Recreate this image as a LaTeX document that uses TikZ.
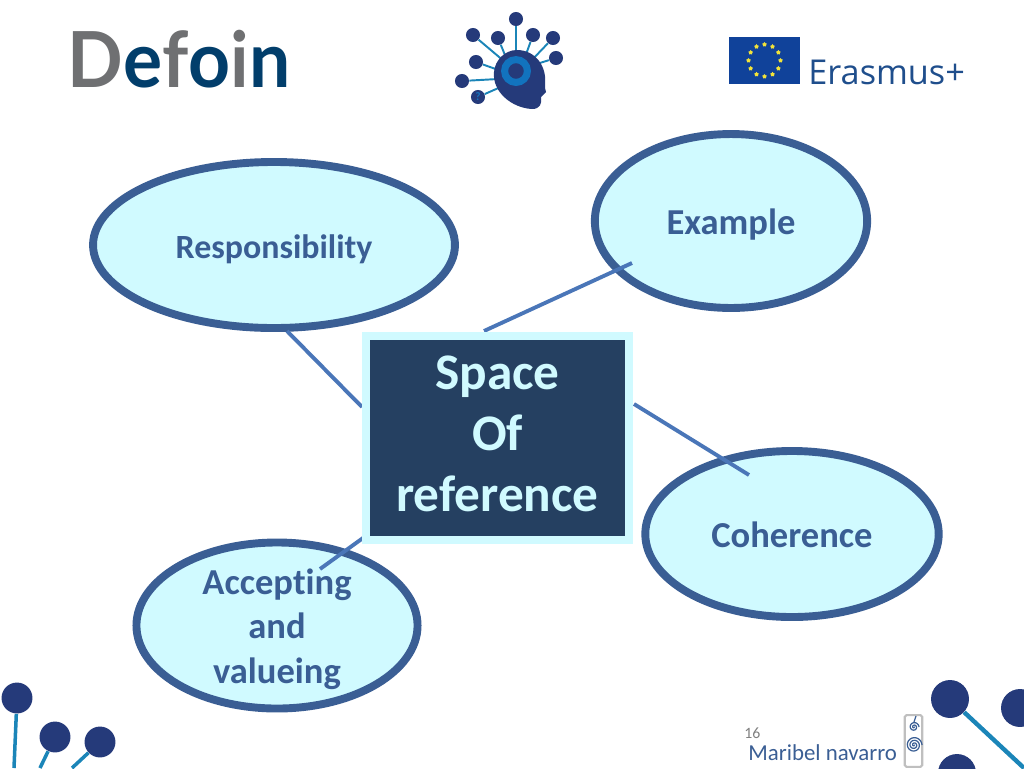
\documentclass[tikz,border=0pt]{standalone}
\usepackage{xcolor}
\usepackage{fontspec}
\setmainfont{Carlito}[Ligatures=NoCommon]
\newfontfamily\logofont{Open Sans}
\newfontfamily\brandfont{Lato}[FakeStretch=0.947]
\usetikzlibrary{shapes.geometric, positioning, calc}
\definecolor{rimblue}{HTML}{3A5E94}
\definecolor{paleaqua}{HTML}{D0FAFF}
\definecolor{boxnavy}{HTML}{254061}
\definecolor{linkblue}{HTML}{4A76B8}
\definecolor{dotnavy}{HTML}{253A7A}
\definecolor{stemblue}{HTML}{1B85B8}
\definecolor{ringblue}{HTML}{1273BE}
\definecolor{logogrey}{HTML}{6F7072}
\definecolor{logoblue}{HTML}{023E6B}
\definecolor{flagblue}{HTML}{10429A}
\definecolor{erasblue}{HTML}{1F4E8C}
\definecolor{stargold}{HTML}{F2E33A}
\tikzset{
  bubble/.style={ellipse, draw=rimblue, fill=paleaqua, line width=4.5pt, inner sep=0pt},
  bubbletext/.style={inner sep=0pt, text=rimblue, align=center, font=\fontsize{20.8}{25.3}\selectfont\bfseries},
  hubbox/.style={rectangle, draw=paleaqua, fill=boxnavy, line width=4.6pt, inner sep=0pt, minimum width=149.6pt, minimum height=116pt},
  hubtext/.style={inner sep=0pt, text=paleaqua, align=center, font=\fontsize{29.2}{34.7}\selectfont\bfseries},
  link/.style={linkblue, line width=2.2pt},
  dot/.style={circle, fill=dotnavy, inner sep=0pt, minimum size=#1},
  stem/.style={stemblue, line width=#1},
  stem/.default=1.1pt
}
\begin{document}
\begin{tikzpicture}[x=0.02cm, y=-0.02cm]
  \useasboundingbox (0,0) rectangle (1024,768);

  % Header logos
  \node[inner sep=0pt, anchor=base west, font=\brandfont\fontsize{44}{44}\selectfont\bfseries] (defoin) at (67,87)
    {\textcolor{logogrey}{D}\textcolor{logoblue}{e}\textcolor{logogrey}{f}\textcolor{logoblue}{o}\textcolor{logogrey}{i}\textcolor{logoblue}{n}};

  % Head logo
  \foreach \name/\x/\y/\hx/\hy in {a/516/19/516/60, b/473/35/505/62, c/498/38/507/60, d/533/35/524/60, e/553/38/530/62, f/476/62/504/72, g/556/58/530/66, h/462/81/498/79} {
    \coordinate (root\name) at (\hx,\hy);
    \node[dot=8pt] (head\name) at (\x,\y) {};
    \draw[stem] (head\name) -- (root\name);
  }
  \node[circle, fill=dotnavy, inner sep=0pt, minimum size=8pt, text=ringblue, font=\fontsize{6.5}{6.5}\selectfont\bfseries] (headq) at (478,97) {?};
  \coordinate (rootq) at (503,86);
  \draw[stem] (headq) -- (rootq);
  \fill[dotnavy] (517,50) .. controls (535,50) and (547,66) .. (545,84)
    -- (545,88) -- (546,92) -- (541,97) .. controls (542,104) and (540,109) .. (532,109)
    .. controls (512,108) and (492,92) .. (494,72) .. controls (495,60) and (505,50) .. (517,50) -- cycle;
  \node[circle, draw=ringblue, fill=dotnavy, line width=4pt, inner sep=0pt, minimum size=13pt] (headeye) at (516,71) {};

  % Flag and programme name
  \node[rectangle, fill=flagblue, inner sep=0pt, minimum width=40.7pt, minimum height=27pt] (flag) at (764.5,60.5) {};
  \foreach \a in {0,30,...,330} {
    \node[star, star points=5, fill=stargold, inner sep=0pt, minimum size=2.8pt] at ($(flag.center)+(\a:16)$) {};
  }
  \node[inner sep=0pt, anchor=base west, text=erasblue, font=\logofont\fontsize{19.5}{19.5}\selectfont] (erasmus) at (808,84) {Erasmus+};

  % Bubbles
  \node[bubble, minimum width=206pt, minimum height=94.5pt] (resp) at (274,245) {};
  \node[bubble, minimum width=155pt, minimum height=99pt] (example) at (731,221) {};
  \node[bubble, minimum width=167pt, minimum height=94.5pt] (coher) at (792,534) {};
  \node[bubble, minimum width=160pt, minimum height=94.5pt] (accept) at (277,625.5) {};

  % Central box
  \coordinate (hubnw) at (362,407);
  \coordinate (hubne) at (484,331);
  \coordinate (hubse) at (634,404);
  \coordinate (hubsw) at (363,538);
  \coordinate (respend) at (287,331);
  \coordinate (exampleend) at (632,263);
  \coordinate (coherend) at (749,475);
  \coordinate (acceptend) at (320,569);
  \draw[link] (respend) -- (hubnw);
  \draw[link] (exampleend) -- (hubne);
  \draw[link] (coherend) -- (hubse);
  \draw[link] (acceptend) -- (hubsw);
  \node[hubbox] (hub) at (497.5,438) {};

  % Labels
  \node[bubbletext, font=\fontsize{19.3}{25.3}\selectfont\bfseries] (resplabel) at (274,249) {Responsibility};
  \node[bubbletext] (examplelabel) at (731,225) {Example};
  \node[bubbletext] (coherlabel) at (792,535) {Coherence};
  \node[bubbletext] (acceptlabel) at (277,629) {Accepting\\and\\valueing};
  \node[hubtext] (hublabel) at (497.5,434) {Space\\Of\\reference};

  % Footer
  \node[inner sep=0pt, anchor=base west, text=gray, font=\fontsize{9}{9}\selectfont] (pagenum) at (744,738) {16};
  \node[inner sep=0pt, anchor=base west, text=rimblue, font=\fontsize{13}{13}\selectfont] (author) at (748,760) {Maribel navarro};
  \node[rectangle, rounded corners=1pt, draw=lightgray, fill=white, line width=1.2pt, inner sep=0pt, minimum width=10pt, minimum height=29.5pt] (spiral) at (913.5,741) {};
  \draw[rimblue, line width=0.7pt, shift={(914,745)}] plot[domain=0:1080, samples=70, smooth] (\x:{\x/135});
  \draw[rimblue, line width=0.7pt, shift={(914,727)}] plot[domain=0:720, samples=50, smooth] (\x:{\x/144});
  \draw[rimblue, line width=0.7pt] (914,722) -- (916,716);

  % Corner dots
  \node[dot=17.6pt] (leftone) at (17,698) {};
  \node[dot=17.6pt] (lefttwo) at (55,737) {};
  \node[dot=17.6pt] (leftthree) at (100,742) {};
  \coordinate (leftonefoot) at (14,768);
  \coordinate (lefttwofoot) at (40,768);
  \coordinate (leftthreefoot) at (72,768);
  \draw[stem=2pt] (leftone) -- (leftonefoot);
  \draw[stem=2pt] (lefttwo) -- (lefttwofoot);
  \draw[stem=2pt] (leftthree) -- (leftthreefoot);
  \node[dot=21.6pt] (rightone) at (950,699) {};
  \node[dot=21.6pt] (righttwo) at (1020,708) {};
  \node[dot=21.6pt] (rightthree) at (957,773) {};
  \coordinate (rightonefoot) at (1024,768);
  \draw[stem=2.5pt] (rightone) -- (rightonefoot);
\end{tikzpicture}
\end{document}
